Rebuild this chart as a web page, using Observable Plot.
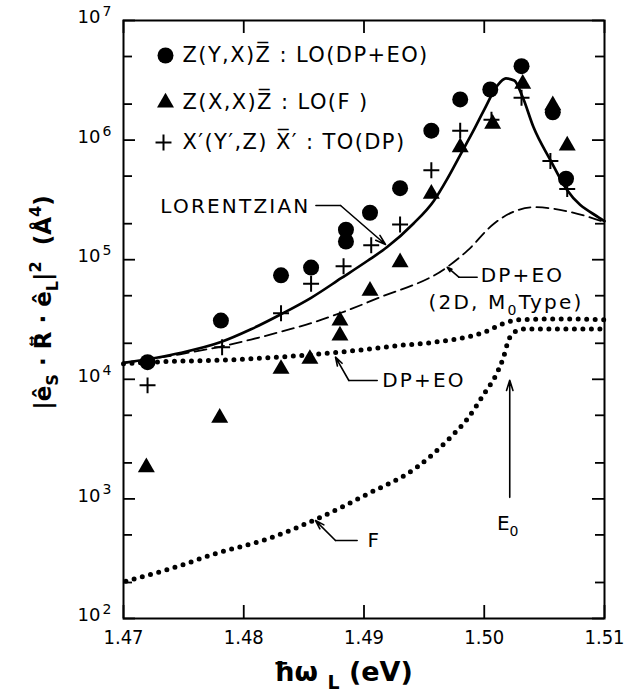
<!DOCTYPE html>
<html><head><meta charset="utf-8">
<script src="https://cdn.jsdelivr.net/npm/d3@7"></script>
<script src="https://cdn.jsdelivr.net/npm/@observablehq/plot@0.6"></script>
<style>
body{margin:0;background:#fff;}
#chart svg{background:#fff;}
</style></head><body><div id="chart"></div>
<script>
// ---- data ----
const circX = [1.4720, 1.4781, 1.4831, 1.4856, 1.4885, 1.4885, 1.4905, 1.4930, 1.4956, 1.4980, 1.5005, 1.5031, 1.5057, 1.5068];
const circY = [1.39e4, 3.1e4, 7.4e4, 8.6e4, 1.42e5, 1.78e5, 2.47e5, 3.96e5, 1.2e6, 2.19e6, 2.65e6, 4.15e6, 1.71e6, 4.75e5];

const triX = [1.4719, 1.4780, 1.4831, 1.4855, 1.4880, 1.4880, 1.4905, 1.4930, 1.4956, 1.4980, 1.5007, 1.5032, 1.5057, 1.5069];
const triY = [1.84e3, 4.76e3, 1.22e4, 1.48e4, 2.32e4, 3.1e4, 5.5e4, 9.5e4, 3.56e5, 8.7e5, 1.37e6, 2.96e6, 1.95e6, 9.0e5];

const plusX = [1.4720, 1.4782, 1.4831, 1.4856, 1.4883, 1.4906, 1.4930, 1.4956, 1.4980, 1.5006, 1.5031, 1.5055, 1.5069];
const plusY = [8.9e3, 1.85e4, 3.57e4, 6.3e4, 8.8e4, 1.32e5, 1.97e5, 5.6e5, 1.2e6, 1.48e6, 2.26e6, 6.7e5, 3.9e5];

const lorX = [1.4700, 1.4747, 1.4781, 1.4806, 1.4831, 1.4856, 1.4881, 1.4903, 1.4919, 1.4941, 1.4958, 1.4969, 1.4980, 1.4991, 1.5000, 1.5011, 1.5018, 1.5025, 1.5032, 1.5041, 1.5055, 1.5069, 1.5095, 1.5100];
const lorY = [1.37e4, 1.66e4, 2.05e4, 2.62e4, 3.5e4, 4.8e4, 7.0e4, 9.8e4, 1.27e5, 2.0e5, 3.1e5, 4.7e5, 7.5e5, 1.2e6, 1.8e6, 2.87e6, 3.28e6, 3.15e6, 2.28e6, 1.28e6, 6.8e5, 3.8e5, 2.26e5, 2.1e5];

const dashX = [1.4700, 1.4747, 1.4781, 1.4806, 1.4831, 1.4856, 1.4881, 1.4911, 1.4969, 1.4986, 1.5008, 1.5027, 1.5041, 1.5069, 1.5100];
const dashY = [1.37e4, 1.62e4, 1.88e4, 2.15e4, 2.5e4, 2.95e4, 3.6e4, 4.75e4, 8.65e4, 1.19e5, 2.0e5, 2.58e5, 2.75e5, 2.54e5, 2.06e5];

const dpeoX = [1.4700, 1.4731, 1.4792, 1.4847, 1.4881, 1.4930, 1.4958, 1.5000, 1.5019, 1.5030, 1.5060, 1.5100];
const dpeoY = [1.35e4, 1.4e4, 1.46e4, 1.58e4, 1.69e4, 1.92e4, 2.04e4, 2.48e4, 3.0e4, 3.15e4, 3.2e4, 3.15e4];

const fX = [1.4702, 1.4736, 1.4778, 1.4820, 1.4861, 1.4903, 1.4944, 1.4972, 1.4986, 1.5000, 1.5011, 1.5016, 1.5020, 1.5025, 1.5035, 1.5100];
const fY = [205, 255, 352, 464, 682, 1100, 1840, 3280, 4670, 7600, 11500, 15300, 21000, 24800, 26400, 26400];

const xTicks = [1.47, 1.48, 1.49, 1.50, 1.51];
const xTickLabels = ["1.47", "1.48", "1.49", "1.50", "1.51"];
const yDecades = [2, 3, 4, 5, 6, 7];
const yMinor = [2e2, 5e2, 2e3, 5e3, 2e4, 5e4, 2e5, 5e5, 2e6, 5e6];

const legendLabels = ["Z(Y,X)Z\u0305 : LO(DP+EO)", "Z(X,X)Z\u0305 : LO(F )", "X\u2032(Y\u2032,Z) X\u0305\u2032 : TO(DP)"];

// annotation anchors (data coordinates)
const notesEnd = [{x: 1.48555, y: 2.80e5, text: "LORENTZIAN"}];
const notesStart = [
  {x: 1.49970, y: 7.30e4, text: "DP+EO"},
  {x: 1.49536, y: 4.42e4, text: "(2D, M_{0}Type)"},
  {x: 1.49151, y: 9.77e3, text: "DP+EO"},
  {x: 1.49029, y: 447, text: "F"}
];
const notesMid = [{x: 1.50195, y: 622, text: "E_{0}"}];
const leaders = [
  [{x: 1.48600, y: 2.84e5}, {x: 1.48805, y: 2.84e5}],
  [{x: 1.49941, y: 7.14e4}, {x: 1.49789, y: 7.14e4}],
  [{x: 1.49110, y: 9.77e3}, {x: 1.48874, y: 9.77e3}],
  [{x: 1.48943, y: 449}, {x: 1.48763, y: 449}]
];
const arrows = [
  {x1: 1.48805, y1: 2.84e5, x2: 1.49179, y2: 1.34e5},
  {x1: 1.49789, y1: 7.14e4, x2: 1.49692, y2: 8.65e4},
  {x1: 1.48874, y1: 9.77e3, x2: 1.48763, y2: 1.53e4},
  {x1: 1.48763, y1: 449, x2: 1.48597, y2: 659},
  {x1: 1.50212, y1: 1.03e3, x2: 1.50212, y2: 9.8e3}
];

// ---- layout ----
const W = 625, H = 700, mL = 123, mR = 21, mT = 20, mB = 82;
const fw = W - mL - mR, fh = H - mT - mB;
const FONT = "DejaVu Sans, sans-serif";

const zip = (xs, ys) => xs.map((x, i) => ({x, y: ys[i]}));
const legendDy = [35, 82, 122];

const chart = Plot.plot({
  width: W, height: H,
  marginLeft: mL, marginRight: mR, marginTop: mT, marginBottom: mB,
  style: {fontFamily: FONT, background: "#fff", color: "#000"},
  x: {domain: [1.47, 1.51], axis: null},
  y: {type: "log", domain: [1e2, 1e7], axis: null},
  marks: [
    // ticks (inward, all sides)
    Plot.tickX(xTicks, {x: d => d, insetTop: fh - 13, strokeWidth: 1.8}),
    Plot.tickX(xTicks, {x: d => d, insetBottom: fh - 13, strokeWidth: 1.8}),
    Plot.tickY(yDecades.map(d => 10 ** d), {y: d => d, insetRight: fw - 12, strokeWidth: 1.8}),
    Plot.tickY(yDecades.map(d => 10 ** d), {y: d => d, insetLeft: fw - 12, strokeWidth: 1.8}),
    Plot.tickY(yMinor, {y: d => d, insetRight: fw - 9, strokeWidth: 1.8}),
    Plot.tickY(yMinor, {y: d => d, insetLeft: fw - 9, strokeWidth: 1.8}),
    Plot.frame({stroke: "#000", strokeWidth: 2}),
    // tick labels
    Plot.text(xTicks, {x: d => d, text: (d, i) => xTickLabels[i], frameAnchor: "bottom", dy: 25, fontSize: 20, fontFamily: "DejaVu Sans Condensed, DejaVu Sans, sans-serif"}),
    Plot.text(yDecades, {y: d => 10 ** d, text: () => "10", frameAnchor: "left", dx: -23, dy: -3, textAnchor: "end", fontSize: 18}),
    Plot.text(yDecades, {y: d => 10 ** d, text: d => String(d), frameAnchor: "left", dx: -21, dy: -9, textAnchor: "start", fontSize: 14}),
    // axis titles
    Plot.text(["|\u00ea_{S} \u00b7 R\u20e1 \u00b7 \u00ea_{L}|^{2}  (\u00c5^{4})"], {frameAnchor: "left", textAnchor: "middle", dx: -80, dy: -17, rotate: -90, fontSize: 23, fontWeight: "bold"}),
    Plot.text(["\u0127\u03c9 _{L} (eV)"], {frameAnchor: "bottom", textAnchor: "middle", dx: -21, dy: 62, fontSize: 27, fontWeight: "bold"}),
    // curves
    Plot.line(zip(fX, fY), {x: "x", y: "y", curve: "monotone-x", stroke: "#000", strokeWidth: 5, strokeDasharray: "0,8.5", strokeLinecap: "round"}),
    Plot.line(zip(dpeoX, dpeoY), {x: "x", y: "y", curve: "monotone-x", stroke: "#000", strokeWidth: 5, strokeDasharray: "0,8.5", strokeLinecap: "round"}),
    Plot.line(zip(dashX, dashY), {x: "x", y: "y", curve: "monotone-x", stroke: "#000", strokeWidth: 1.8, strokeDasharray: "12,6"}),
    Plot.line(zip(lorX, lorY), {x: "x", y: "y", curve: "monotone-x", stroke: "#000", strokeWidth: 2.7}),
    // data points
    Plot.dot(zip(circX, circY), {x: "x", y: "y", r: 8, fill: "#000", stroke: "none"}),
    Plot.dot(zip(triX, triY), {x: "x", y: "y", symbol: "triangle", r: 6.3, fill: "#000", stroke: "none"}),
    Plot.dot(zip(plusX, plusY), {x: "x", y: "y", symbol: "plus", r: 5.2, stroke: "#000", strokeWidth: 2, fill: "none"}),
    // annotations
    ...leaders.map(seg => Plot.line(seg, {x: "x", y: "y", stroke: "#000", strokeWidth: 1.6})),
    Plot.arrow(arrows, {x1: "x1", y1: "y1", x2: "x2", y2: "y2", bend: false, headLength: 10, headAngle: 35, strokeWidth: 1.6, stroke: "#000"}),
    Plot.text(notesEnd, {x: "x", y: "y", text: "text", textAnchor: "end", fontSize: 20}),
    Plot.text(notesStart, {x: "x", y: "y", text: "text", textAnchor: "start", fontSize: 20}),
    Plot.text(notesMid, {x: "x", y: "y", text: "text", textAnchor: "middle", fontSize: 20}),
    // legend
    Plot.dot([0], {frameAnchor: "top-left", dx: 42, dy: legendDy[0], r: 8, fill: "#000", stroke: "none"}),
    Plot.dot([0], {frameAnchor: "top-left", dx: 42, dy: legendDy[1], r: 6.3, symbol: "triangle", fill: "#000", stroke: "none"}),
    Plot.dot([0], {frameAnchor: "top-left", dx: 40, dy: legendDy[2], r: 5.2, symbol: "plus", stroke: "#000", strokeWidth: 2, fill: "none"}),
    ...legendLabels.map((label, i) => Plot.text([label], {frameAnchor: "top-left", dx: 59, dy: legendDy[i], textAnchor: "start", lineAnchor: "middle", fontSize: 21}))
  ]
});

// sub/superscripts: turn _{..} and ^{..} into tspans
function richify(svg) {
  d3.select(svg).selectAll("text").each(function () {
    const t = this.textContent;
    if (!/[_^]\{/.test(t)) return;
    const base = parseFloat(getComputedStyle(this).fontSize) || 16;
    const parts = t.split(/([_^]\{[^}]*\})/).filter(s => s.length);
    this.textContent = "";
    let shift = 0;
    for (const p of parts) {
      const m = p.match(/^([_^])\{([^}]*)\}$/);
      const ts = document.createElementNS("http://www.w3.org/2000/svg", "tspan");
      let target = 0, txt = p;
      if (m) {
        target = m[1] === "_" ? 0.3 * base : -0.42 * base;
        txt = m[2];
        ts.setAttribute("font-size", (0.7 * base) + "px");
      }
      ts.setAttribute("dy", (target - shift) + "px");
      shift = target;
      ts.textContent = txt;
      this.appendChild(ts);
    }
  });
}
// wider lettering like the original's stencil text
const spaced = new Map([...legendLabels.map(l => [l, "1.4px"]), ...[...notesEnd, ...notesStart].map(n => [n.text, "2.2px"])]);
d3.select(chart).selectAll("text").each(function () {
  const s = spaced.get(this.textContent);
  if (s) this.style.letterSpacing = s;
});
document.getElementById("chart").appendChild(chart);
richify(chart);
</script></body></html>
